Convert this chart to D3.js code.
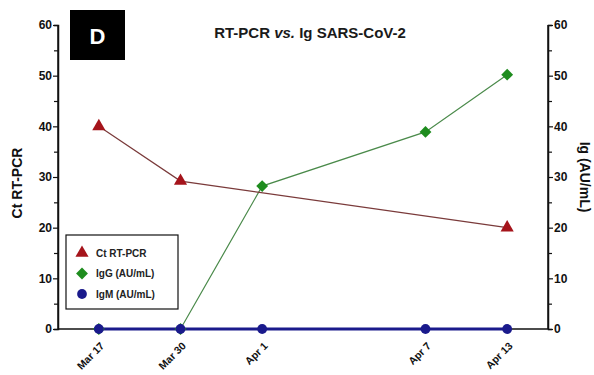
<!DOCTYPE html>
<html><head><meta charset="utf-8">
<script src="https://cdn.jsdelivr.net/npm/d3@7"></script>
<style>body{margin:0;background:#fff}svg{display:block}text{font-family:"Liberation Sans",Arial,sans-serif}</style>
</head><body>
<svg id="c" width="594" height="375"></svg>
<script>
const categories = ["Mar 17","Mar 30","Apr 1","Apr 7","Apr 13"];
const catIndex = [0,1,2,4,5];
const ctValues = [40, 29.2, null, null, 20];
const iggValues = [0, 0, 28.2, 38.9, 50.2];
const igmValues = [0, 0, 0, 0, 0];
const yTicks = [0,10,20,30,40,50,60];
const title = "RT-PCR vs. Ig SARS-CoV-2";

const svg = d3.select("#c");
const x = d3.scaleLinear().domain([-0.5,5.5]).range([58,548]);
const y = d3.scaleLinear().domain([0,60]).range([329,25]);

// axes
const gl = svg.append("g").attr("transform","translate(58,0)")
  .call(d3.axisLeft(y).tickValues(yTicks).tickSize(5).tickPadding(1).tickFormat(d3.format("d")));
const glm = svg.append("g").attr("transform","translate(58,0)")
  .call(d3.axisLeft(y).tickValues(d3.range(5,60,10)).tickSize(4).tickFormat(""));
const gr = svg.append("g").attr("transform","translate(548,0)")
  .call(d3.axisRight(y).tickValues(yTicks).tickSize(5).tickPadding(1).tickFormat(d3.format("d")));
const grm = svg.append("g").attr("transform","translate(548,0)")
  .call(d3.axisRight(y).tickValues(d3.range(5,60,10)).tickSize(4).tickFormat(""));
const gx = svg.append("g").attr("transform","translate(0,329)")
  .call(d3.axisBottom(x).tickValues(catIndex).tickSize(0).tickFormat((d,i)=>categories[i]));
[gl,glm,gr,grm,gx].forEach(g=>{
  g.select(".domain").attr("stroke","#111").attr("stroke-width",1.5);
  g.selectAll(".tick line").attr("stroke","#111").attr("stroke-width",1.2);
  g.selectAll("text").attr("fill","#111").attr("font-size",12).attr("font-weight","bold");
});
gl.select(".domain").attr("d","M-0,329V25");
gr.select(".domain").attr("d","M0,329V25");
gx.select(".domain").attr("d","M58,0H548");
gx.selectAll("text").attr("font-size",10.5).attr("text-anchor","end")
  .attr("transform","translate(3,15) rotate(-45)").attr("dy","0.35em").attr("y",0);

// axis titles
svg.append("text").attr("transform","translate(22,183) rotate(-90)").attr("text-anchor","middle")
  .attr("font-size",14).attr("font-weight","bold").attr("fill","#111").text("Ct RT-PCR");
svg.append("text").attr("transform","translate(580,177) rotate(90)").attr("text-anchor","middle")
  .attr("font-size",14).attr("font-weight","bold").attr("fill","#111").text("Ig (AU/mL)");

// title
const t = svg.append("text").attr("x",310).attr("y",38).attr("text-anchor","middle")
  .attr("font-size",15).attr("font-weight","bold").attr("fill","#1a1a1a");
t.append("tspan").text("RT-PCR ");
t.append("tspan").attr("font-style","italic").text("vs.");
t.append("tspan").text(" Ig SARS-CoV-2");

// panel label
svg.append("rect").attr("x",70).attr("y",10).attr("width",55).attr("height",50).attr("fill","#000");
svg.append("text").attr("x",97.5).attr("y",44).attr("text-anchor","middle").attr("font-size",22)
  .attr("font-weight","bold").attr("fill","#fff").text("D");

const pts = (vals)=>catIndex.map((c,i)=>({c,v:vals[i]})).filter(d=>d.v!=null);
const line = d3.line().x(d=>x(d.c)).y(d=>y(d.v));

const ctCol="#a5141b", iggCol="#1e8c1e", igmCol="#1a1a8c";
// IgG
svg.append("path").datum(pts(iggValues)).attr("d",line).attr("fill","none").attr("stroke","#4a8a4a").attr("stroke-width",1.2);
// Ct
svg.append("path").datum(pts(ctValues)).attr("d",line).attr("fill","none").attr("stroke","#7a3a3a").attr("stroke-width",1.2);
// IgM
svg.append("path").datum(pts(igmValues)).attr("d",line).attr("fill","none").attr("stroke",igmCol).attr("stroke-width",3);

const tri = d3.symbol().type(d3.symbolTriangle).size(75);
const dia = d3.symbol().type(d3.symbolSquare).size(70);
const cir = d3.symbol().type(d3.symbolCircle).size(75);

svg.selectAll(".ct").data(pts(ctValues)).join("path").attr("d",tri)
  .attr("transform",d=>`translate(${x(d.c)},${y(d.v)})`).attr("fill",ctCol);
svg.selectAll(".igg").data(pts(iggValues)).join("path").attr("d",dia)
  .attr("transform",d=>`translate(${x(d.c)},${y(d.v)}) rotate(45)`).attr("fill",iggCol);
svg.selectAll(".igm").data(pts(igmValues)).join("path").attr("d",cir)
  .attr("transform",d=>`translate(${x(d.c)},${y(d.v)})`).attr("fill",igmCol);

// legend
svg.append("rect").attr("x",66).attr("y",235).attr("width",112).attr("height",74)
  .attr("fill","#fff").attr("stroke","#111").attr("stroke-width",1.2);
const leg = [{l:"Ct RT-PCR",s:tri,c:ctCol,r:0},{l:"IgG (AU/mL)",s:dia,c:iggCol,r:45},{l:"IgM (AU/mL)",s:cir,c:igmCol,r:0}];
leg.forEach((e,i)=>{
  const yy = 253 + i*20.5;
  svg.append("path").attr("d",e.s).attr("fill",e.c).attr("transform",`translate(82,${yy}) rotate(${e.r})`);
  svg.append("text").attr("x",96).attr("y",yy).attr("dy","0.35em").attr("font-size",10)
    .attr("font-weight","bold").attr("fill","#222").text(e.l);
});
</script>
</body></html>
